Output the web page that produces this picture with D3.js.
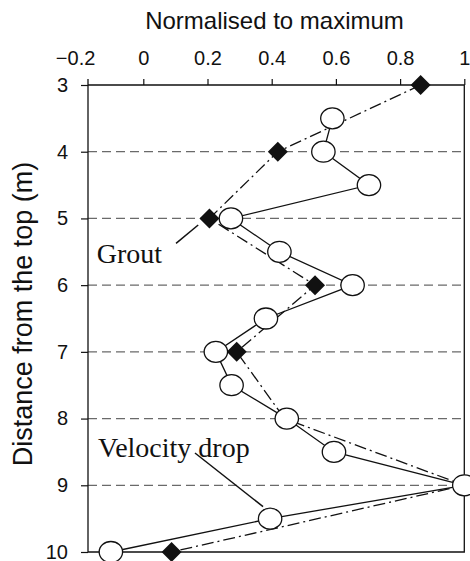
<!DOCTYPE html>
<html>
<head>
<meta charset="utf-8">
<script src="https://cdn.jsdelivr.net/npm/d3@7"></script>
<style>
  body { margin: 0; background: #fff; }
  svg { display: block; }
</style>
</head>
<body>
<div id="chart"></div>
<script>
// Depth profile: velocity drop (circles) vs grout (diamonds), normalised to max

const width = 470, height = 561;

// data
const depthVelocity = [3.5, 4, 4.5, 5, 5.5, 6, 6.5, 7, 7.5, 8, 8.5, 9, 9.5, 10];
const valueVelocity = [0.589, 0.561, 0.703, 0.273, 0.424, 0.652, 0.382, 0.226, 0.275, 0.447, 0.594, 1.0, 0.395, -0.101];

const depthGrout = [3, 4, 5, 6, 7, 8, 9, 10];
const valueGrout = [0.864, 0.419, 0.206, 0.535, 0.291, 0.44, 1.0, 0.088];

const xTicks = [-0.2, 0, 0.2, 0.4, 0.6, 0.8, 1];
const yTicks = [3, 4, 5, 6, 7, 8, 9, 10];
const gridDepths = [4, 5, 6, 7, 8, 9];

// annotation labels with leader lines (data units)
const labelText = ["Grout", "Velocity drop"];
const labelPos = [[-0.145, 5.673], [-0.141, 8.572]];
const leaderFrom = [[0.102, 5.373], [0.161, 8.516]];
const leaderTo = [[0.171, 5.099], [0.373, 9.321]];

// layout
const plotLeft = 88, plotRight = 464.3, plotTop = 85, plotBottom = 552;

const svg = d3.select("#chart")
    .append("svg")
    .attr("width", width)
    .attr("height", height);

const x = d3.scaleLinear()
    .domain([-0.2, 1])
    .range([79.1, 464.3]);

const y = d3.scaleLinear()
    .domain([3, 10])
    .range([plotTop, plotBottom]);

// Gridlines
svg.selectAll("line.grid")
    .data(gridDepths)
    .enter()
    .append("line")
    .attr("class", "grid")
    .attr("x1", plotLeft)
    .attr("x2", plotRight)
    .attr("y1", d => y(d))
    .attr("y2", d => y(d))
    .attr("stroke", "#6a6a6a")
    .attr("stroke-width", 1.2)
    .attr("stroke-dasharray", "9,5");

// Axes
const xAxis = d3.axisTop(x)
    .tickValues(xTicks)
    .tickSize(6)
    .tickPadding(14)
    .tickFormat(d => d === 0 || d === 1 ? d3.format("d")(d) : d3.format(".1f")(d).replace("-", "-"));

const gx = svg.append("g")
    .attr("transform", `translate(0,${plotTop})`)
    .call(xAxis);
gx.select(".domain").remove();
gx.selectAll("text")
    .style("font-family", "'Liberation Sans', Arial, sans-serif")
    .style("font-size", "20px")
    .attr("fill", "#111");
gx.selectAll(".tick line").attr("stroke", "#111").attr("stroke-width", 1.2);
gx.selectAll(".tick").filter(d => d === -0.2).select("line").remove();
gx.selectAll(".tick").filter(d => d === -0.2).select("text").attr("dx", -4);

const yAxis = d3.axisLeft(y)
    .tickValues(yTicks)
    .tickSize(7)
    .tickPadding(13)
    .tickFormat(d3.format("d"));

const gy = svg.append("g")
    .attr("transform", `translate(${plotLeft},0)`)
    .call(yAxis);
gy.select(".domain").remove();
gy.selectAll("text")
    .style("font-family", "'Liberation Sans', Arial, sans-serif")
    .style("font-size", "20px")
    .attr("fill", "#111");
gy.selectAll(".tick line").attr("stroke", "#111").attr("stroke-width", 1.2);

// Frame
svg.append("path")
    .attr("d", `M${plotLeft},${plotTop - 6}V${plotBottom}H${plotRight}V${plotTop}H${plotLeft}`)
    .attr("fill", "none")
    .attr("stroke", "#111")
    .attr("stroke-width", 1.3);

// Axis titles
svg.append("text")
    .attr("x", 274.5)
    .attr("y", 29.3)
    .attr("text-anchor", "middle")
    .style("font-family", "'Liberation Sans', Arial, sans-serif")
    .style("font-size", "24px")
    .attr("fill", "#111")
    .text("Normalised to maximum");

svg.append("text")
    .attr("transform", "rotate(-90)")
    .attr("x", -314)
    .attr("y", 32)
    .attr("text-anchor", "middle")
    .style("font-family", "'Liberation Sans', Arial, sans-serif")
    .style("font-size", "27px")
    .attr("fill", "#111")
    .text("Distance from the top (m)");

// Lines
const groutPts = depthGrout.map((d, i) => [valueGrout[i], d]);
const velPts = depthVelocity.map((d, i) => [valueVelocity[i], d]);

const line = d3.line()
    .x(d => x(d[0]))
    .y(d => y(d[1]));

svg.append("path")
    .datum(groutPts)
    .attr("d", line)
    .attr("fill", "none")
    .attr("stroke", "#111")
    .attr("stroke-width", 1.3)
    .attr("stroke-dasharray", "12,4,2,4");

svg.append("path")
    .datum(velPts)
    .attr("d", line)
    .attr("fill", "none")
    .attr("stroke", "#111")
    .attr("stroke-width", 1.3);

// Markers
const dSize = 10;
svg.selectAll("path.diamond")
    .data(groutPts)
    .enter()
    .append("path")
    .attr("class", "diamond")
    .attr("d", d => {
        const cx = x(d[0]), cy = y(d[1]);
        return `M${cx},${cy - dSize}L${cx + dSize},${cy}L${cx},${cy + dSize}L${cx - dSize},${cy}Z`;
    })
    .attr("fill", "#111");

svg.selectAll("ellipse.vel")
    .data(velPts)
    .enter()
    .append("ellipse")
    .attr("class", "vel")
    .attr("cx", d => x(d[0]))
    .attr("cy", d => y(d[1]))
    .attr("rx", 11.7)
    .attr("ry", 10.5)
    .attr("fill", "#fff")
    .attr("stroke", "#111")
    .attr("stroke-width", 1.3);

// Annotations
labelText.forEach((t, i) => {
    svg.append("line")
        .attr("x1", x(leaderFrom[i][0]))
        .attr("y1", y(leaderFrom[i][1]))
        .attr("x2", x(leaderTo[i][0]))
        .attr("y2", y(leaderTo[i][1]))
        .attr("stroke", "#111")
        .attr("stroke-width", 1.5);

    svg.append("text")
        .attr("x", x(labelPos[i][0]))
        .attr("y", y(labelPos[i][1]))
        .style("font-family", "'Liberation Serif', 'Times New Roman', serif")
        .style("font-size", "28px")
        .attr("fill", "#111")
        .text(t);
});
</script>
</body>
</html>
